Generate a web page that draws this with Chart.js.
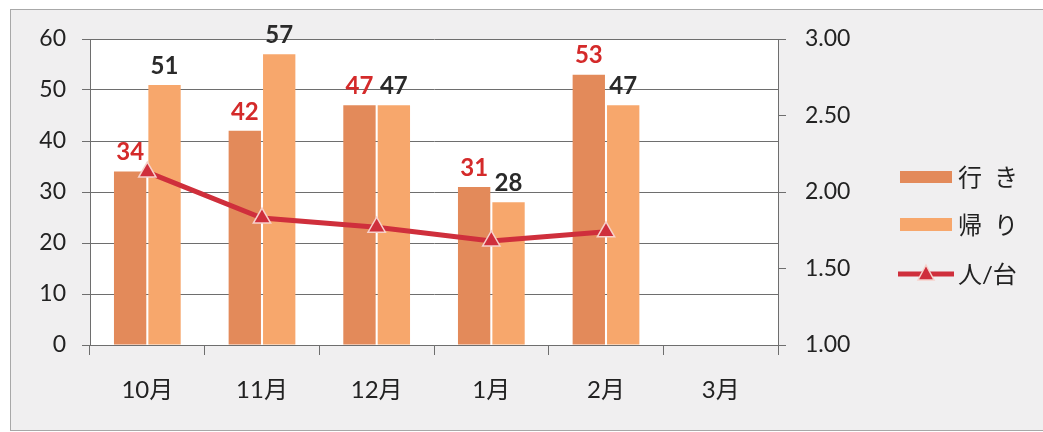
<!DOCTYPE html>
<html lang="ja">
<head>
<meta charset="utf-8">
<script src="https://cdn.jsdelivr.net/npm/chart.js@4/dist/chart.umd.min.js"></script>
<style>
  html, body { margin: 0; padding: 0; background: #fff; }
  #wrap { position: relative; width: 1043px; height: 432px; overflow: hidden; }
  #frame {
    position: absolute; left: 10px; top: 9px; width: 1060px; height: 420px;
    background: #f0eff0; border: 1.5px solid #a8a8a8; border-right: none;
  }
  #box { position: absolute; left: 0; top: 0; width: 1043px; height: 432px; }
</style>
</head>
<body>
<div id="wrap">
  <div id="frame"></div>
  <div id="box"><canvas id="chart"></canvas></div>
</div>
<script>
// ── Data ────────────────────────────────────────────────
const months   = ['10月', '11月', '12月', '1月', '2月', '3月'];
const outbound = [34, 42, 47, 31, 53, null];   // 行き
const inbound  = [51, 57, 47, 28, 47, null];   // 帰り
const perCar   = [2.13, 1.83, 1.77, 1.68, 1.74, null]; // 人/台
const leftTicks  = [0, 10, 20, 30, 40, 50, 60];
const rightTicks = [1.0, 1.5, 2.0, 2.5, 3.0];

const FONT = "Lato, 'Noto Sans CJK JP', sans-serif";
const C_OUT  = '#e38a5a';
const C_IN   = '#f7a76c';
const C_LINE = '#cf2f3c';
const GRID   = '#6e6e6e';

// white plot area
const plotBg = {
  id: 'plotBg',
  beforeDraw(chart) {
    const { ctx, chartArea: a } = chart;
    ctx.save();
    ctx.fillStyle = '#fff';
    ctx.fillRect(a.left, a.top, a.right - a.left, a.bottom - a.top);
    ctx.restore();
  }
};

// value labels above bars
const barLabels = {
  id: 'barLabels',
  afterDatasetsDraw(chart) {
    const { ctx } = chart;
    ctx.save();
    ctx.font = `bold 24px ${FONT}`;
    ctx.textAlign = 'center';
    ctx.textBaseline = 'bottom';
    chart.data.datasets.forEach((ds, i) => {
      if (ds.type === 'line') return;
      const meta = chart.getDatasetMeta(i);
      ctx.fillStyle = ds.labelColor;
      meta.data.forEach((el, j) => {
        const v = ds.data[j];
        if (v == null) return;
        ctx.fillText(String(v), el.x, el.y - 7);
      });
    });
    ctx.restore();
  }
};

// legend on the right
const sideLegend = {
  id: 'sideLegend',
  afterDraw(chart) {
    const { ctx } = chart;
    const x0 = 900, textX = 958;
    const rows = [177, 225, 274];
    ctx.save();
    ctx.font = `24px ${FONT}`;
    ctx.textBaseline = 'middle';
    ctx.textAlign = 'left';

    ctx.fillStyle = C_OUT;
    ctx.fillRect(x0, rows[0] - 6, 52, 12);
    ctx.fillStyle = C_IN;
    ctx.fillRect(x0, rows[1] - 7, 52, 13);

    ctx.strokeStyle = C_LINE;
    ctx.lineWidth = 5;
    ctx.beginPath();
    ctx.moveTo(x0 - 2, rows[2]);
    ctx.lineTo(x0 + 54, rows[2]);
    ctx.stroke();
    ctx.fillStyle = C_LINE;
    ctx.strokeStyle = '#f6d2cc';
    ctx.lineWidth = 1.5;
    ctx.beginPath();
    ctx.moveTo(x0 + 26, rows[2] - 9);
    ctx.lineTo(x0 + 34, rows[2] + 6);
    ctx.lineTo(x0 + 18, rows[2] + 6);
    ctx.closePath();
    ctx.fill();
    ctx.stroke();

    ctx.fillStyle = '#222';
    ctx.fillText('行\u2002き', textX, rows[0] + 1);
    ctx.fillText('帰\u2002り', textX, rows[1] + 1);
    ctx.fillText('人/台', textX, rows[2] + 1);
    ctx.restore();
  }
};

new Chart(document.getElementById('chart'), {
  type: 'bar',
  data: {
    labels: months,
    datasets: [
      {
        type: 'line',
        label: '人/台',
        data: perCar,
        yAxisID: 'yR',
        borderColor: C_LINE,
        borderWidth: 5,
        pointStyle: 'triangle',
        pointRadius: 10,
        pointBackgroundColor: C_LINE,
        pointBorderColor: '#f6d2cc',
        pointBorderWidth: 1.5,
        tension: 0,
        order: 0,
      },
      {
        label: '行き',
        data: outbound,
        yAxisID: 'y',
        backgroundColor: C_OUT,
        labelColor: '#d42a2a',
        categoryPercentage: 0.6,
        barPercentage: 0.94,
        order: 1,
      },
      {
        label: '帰り',
        data: inbound,
        yAxisID: 'y',
        backgroundColor: C_IN,
        labelColor: '#2a2a2a',
        categoryPercentage: 0.6,
        barPercentage: 0.94,
        order: 1,
      },
    ],
  },
  options: {
    responsive: true,
    maintainAspectRatio: false,
    animation: false,
    layout: { padding: { left: 0, top: 39, right: 165, bottom: 0 } },
    scales: {
      x: {
        grid: { display: true, drawOnChartArea: false, color: GRID, tickLength: 10, offset: true },
        border: { color: GRID, width: 1 },
        ticks: { color: '#222', font: { family: FONT, size: 24 }, padding: 21, maxRotation: 0 },
        afterFit: s => { s.height = 87; },
      },
      y: {
        position: 'left',
        min: 0, max: 60,
        afterBuildTicks: s => { s.ticks = leftTicks.map(v => ({ value: v })); },
        grid: { color: GRID, lineWidth: 1, tickLength: 8 },
        border: { color: GRID, width: 1 },
        ticks: { color: '#222', font: { family: FONT, size: 23 }, padding: 16 },
        afterFit: s => { s.width = 90; },
      },
      yR: {
        position: 'right',
        min: 1, max: 3,
        afterBuildTicks: s => { s.ticks = rightTicks.map(v => ({ value: v })); },
        grid: { drawOnChartArea: false, color: GRID, tickLength: 8 },
        border: { color: GRID, width: 1 },
        ticks: { color: '#222', font: { family: FONT, size: 23 }, padding: 19,
                 callback: v => Number(v).toFixed(2) },
        afterFit: s => { s.width = 100; },
      },
    },
    plugins: {
      legend: { display: false },
      tooltip: { enabled: false },
    },
  },
  plugins: [plotBg, barLabels, sideLegend],
});
</script>
</body>
</html>
